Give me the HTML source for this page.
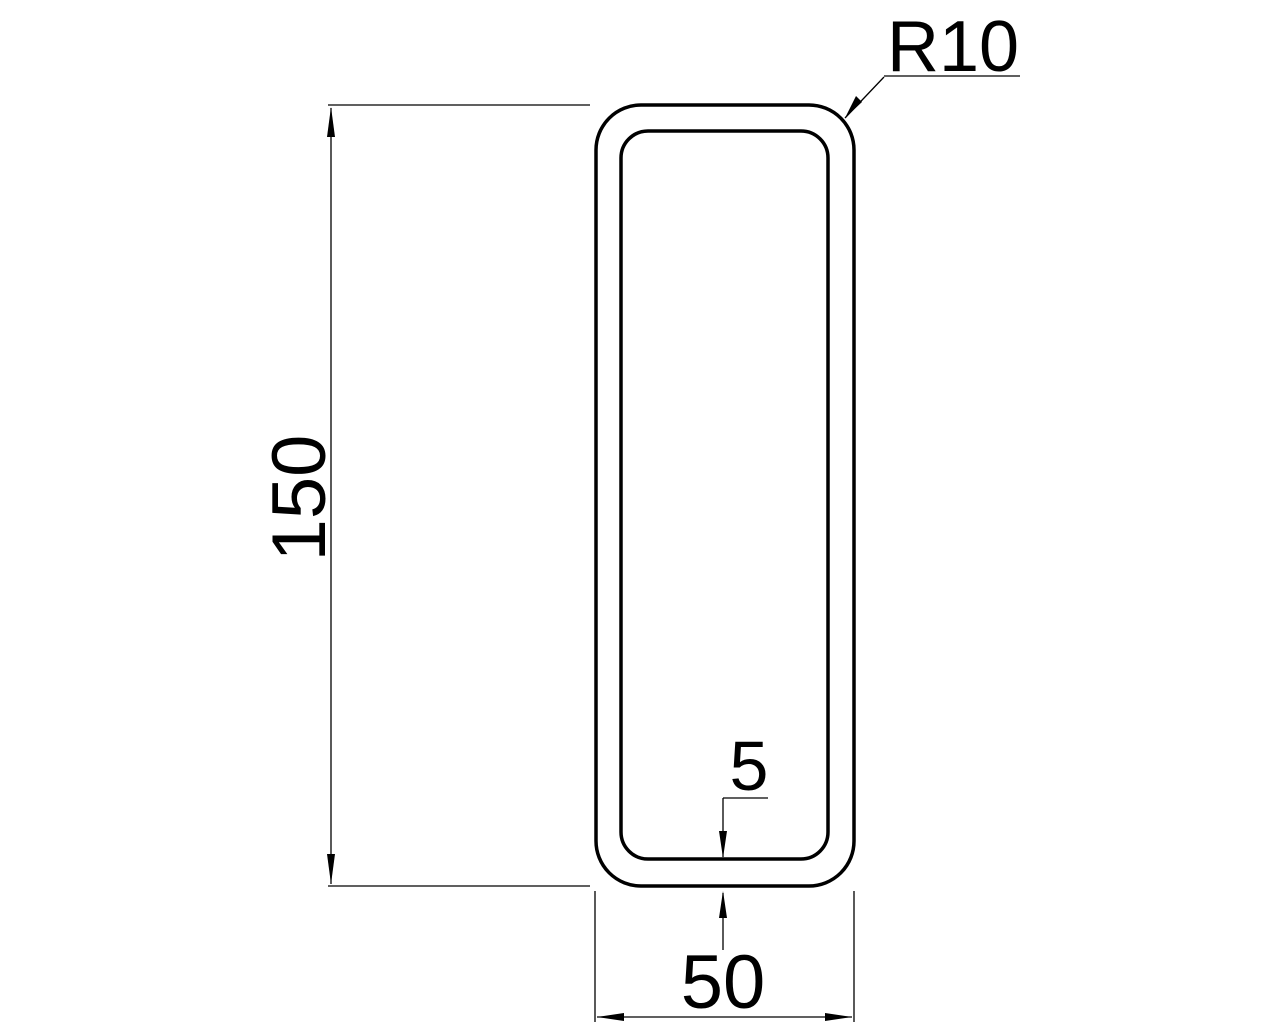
<!DOCTYPE html>
<html><head><style>html,body{margin:0;padding:0;background:#fff}</style></head>
<body>
<svg width="1280" height="1024" viewBox="0 0 1280 1024" xmlns="http://www.w3.org/2000/svg" style="display:block">
<g fill="none" stroke="#000">
<rect x="596" y="105" width="258" height="781" rx="45" ry="45" stroke-width="3.5"/>
<rect x="621" y="131" width="207" height="728" rx="27" ry="27" stroke-width="3.5"/>
<g stroke-width="1.3">
<line x1="328" y1="105" x2="590" y2="105"/>
<line x1="328" y1="886" x2="590" y2="886"/>
<line x1="331" y1="108" x2="331" y2="884"/>
<line x1="595" y1="891" x2="595" y2="1022"/>
<line x1="854" y1="891" x2="854" y2="1022"/>
<line x1="597" y1="1017" x2="852" y2="1017"/>
<line x1="723" y1="893" x2="723" y2="950"/>
<line x1="723" y1="798" x2="723" y2="857"/>
<line x1="723" y1="798" x2="768" y2="798"/>
<line x1="845" y1="118" x2="884" y2="77"/>
<line x1="884" y1="76" x2="1020" y2="76"/>
</g>
</g>
<g fill="#000">
<polygon points="331,107 327,137 335,137"/>
<polygon points="331,884 327,854 335,854"/>
<polygon points="597,1017 624,1013 624,1021"/>
<polygon points="852,1017 825,1013 825,1021"/>
<polygon points="723,891 719,918 727,918"/>
<polygon points="723,858 719,831 727,831"/>
<polygon points="845,118 856,96 862,102"/>
</g>
<g font-family="Liberation Sans, sans-serif" fill="#000">
<text x="953" y="71" font-size="72" text-anchor="middle">R10</text>
<text x="749" y="790" font-size="70" text-anchor="middle">5</text>
<text x="723" y="1008" font-size="76" text-anchor="middle">50</text>
<text transform="translate(325,498) rotate(-90)" font-size="76" text-anchor="middle">150</text>
</g>
</svg>
</body></html>
